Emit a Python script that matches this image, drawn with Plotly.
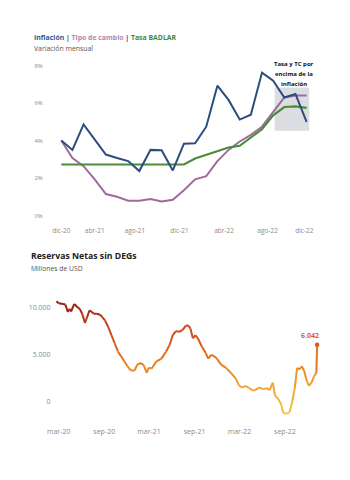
import plotly.graph_objects as go
from plotly.colors import sample_colorscale

# ---------------- Data: top chart (monthly % change) ----------------
top_tick_labels = ["dic-20", "abr-21", "ago-21", "dic-21", "abr-22", "ago-22", "dic-22"]
inflacion = [4.0, 3.5, 4.86, 4.05, 3.25, 3.07, 2.9, 2.37, 3.5, 3.48, 2.4, 3.83,
             3.85, 4.74, 6.93, 6.17, 5.12, 5.38, 7.63, 7.19, 6.3, 6.49, 5.0]
tipo_cambio = [4.0, 3.07, 2.63, 1.93, 1.14, 1.0, 0.79, 0.79, 0.88, 0.74, 0.84, 1.35,
               1.93, 2.1, 2.9, 3.5, 3.95, 4.3, 4.74, 5.5, 6.3, 6.4, 6.4]
badlar = [2.72, 2.72, 2.72, 2.72, 2.72, 2.72, 2.72, 2.72, 2.72, 2.72, 2.72, 2.72,
          3.04, 3.25, 3.42, 3.63, 3.72, 4.16, 4.6, 5.35, 5.79, 5.82, 5.74]
top_y_ticks = [0, 2, 4, 6, 8]

# ---------------- Data: bottom chart (net reserves, USD millions) ----------------
res_dates = ["2020-03-06", "2020-03-15", "2020-04-01", "2020-04-11", "2020-04-21", "2020-04-27",
             "2020-05-04", "2020-05-17", "2020-05-30", "2020-06-08", "2020-06-18", "2020-06-29",
             "2020-07-08", "2020-07-17", "2020-07-28", "2020-08-03", "2020-08-16", "2020-08-29",
             "2020-09-07", "2020-09-18", "2020-10-01", "2020-10-14", "2020-10-27", "2020-11-09",
             "2020-11-22", "2020-12-05", "2020-12-18", "2020-12-31", "2021-01-16", "2021-01-26",
             "2021-02-11", "2021-02-21", "2021-03-06", "2021-03-13", "2021-03-26", "2021-04-14",
             "2021-05-04", "2021-05-23", "2021-06-06", "2021-06-19", "2021-07-01", "2021-07-15",
             "2021-07-28", "2021-08-10", "2021-08-20", "2021-08-29", "2021-09-08", "2021-09-18",
             "2021-09-28", "2021-10-14", "2021-10-30", "2021-11-09", "2021-11-22", "2021-12-03",
             "2021-12-12", "2021-12-31", "2022-01-20", "2022-02-08", "2022-02-28", "2022-03-13",
             "2022-03-26", "2022-04-08", "2022-04-21", "2022-05-04", "2022-05-17", "2022-06-03",
             "2022-06-19", "2022-07-02", "2022-07-15", "2022-07-28", "2022-08-06", "2022-08-19",
             "2022-08-30", "2022-09-08", "2022-09-21", "2022-10-04", "2022-10-14", "2022-10-25",
             "2022-11-03", "2022-11-12", "2022-11-22", "2022-12-02", "2022-12-12", "2022-12-21",
             "2022-12-31", "2023-01-11", "2023-01-20", "2023-01-23"]
res_values = [10700, 10490, 10420, 10350, 9550, 9900,
              9610, 10420, 10070, 9890, 9370, 8390,
              9020, 9720, 9550, 9370, 9370, 9260,
              9020, 8660, 7960, 7090, 6210, 5330,
              4810, 4280, 3750, 3300, 3300, 3930,
              4100, 3860, 3050, 3580, 3510, 4280,
              4560, 5330, 6030, 7090, 7510, 7440,
              7610, 8070, 8140, 7790, 6740, 7090,
              6740, 5860, 5160, 4560, 4980, 4810,
              4630, 3930, 3580, 3050, 2450, 1700,
              1470, 1650, 1470, 1190, 1190, 1470,
              1300, 1400, 1190, 2000, 600, 240,
              -280, -1260, -1340, -1160, -100, 1470,
              3580, 3400, 3750, 3230, 2180, 1650,
              2000, 2700, 3050, 6042]
bottom_tick_labels = ["mar-20", "sep-20", "mar-21", "sep-21", "mar-22", "sep-22"]
bottom_tick_dates = ["2020-03-15", "2020-09-15", "2021-03-15", "2021-09-15", "2022-03-15", "2022-09-15"]
bottom_y_ticks = [0, 5000, 10000]

# ---------------- Styles ----------------
FONT = "Open Sans"
C_INF = "#2b4d7e"
C_TC = "#9e6b9c"
C_BAD = "#4a8c3a"
TICK_C = "#8a8a8a"
W, H = 350, 480


def px_x(p):
    return p / W


def px_y(p):
    return 1 - p / H


fig = go.Figure()

n = len(inflacion)
idx = list(range(n))
fig.add_trace(go.Scatter(x=idx, y=tipo_cambio, mode="lines", line=dict(color=C_TC, width=2),
                         xaxis="x", yaxis="y", showlegend=False, hoverinfo="skip"))
fig.add_trace(go.Scatter(x=idx, y=badlar, mode="lines", line=dict(color=C_BAD, width=2.2),
                         xaxis="x", yaxis="y", showlegend=False, hoverinfo="skip"))
fig.add_trace(go.Scatter(x=idx, y=inflacion, mode="lines", line=dict(color=C_INF, width=2),
                         xaxis="x", yaxis="y", showlegend=False, hoverinfo="skip"))

# Bottom chart: line coloured by value, segment by segment
cscale = [[0.0, "#f5c842"], [0.12, "#f3b53a"], [0.28, "#f0a030"], [0.44, "#e8801f"],
          [0.60, "#dc5e1c"], [0.76, "#cc4418"], [0.88, "#a82a12"], [1.0, "#901c0e"]]
vmin, vmax = -1500, 11000
for i in range(len(res_values) - 1):
    mid = (res_values[i] + res_values[i + 1]) / 2
    t = min(max((mid - vmin) / (vmax - vmin), 0), 1)
    col = sample_colorscale(cscale, [t])[0]
    fig.add_trace(go.Scatter(x=res_dates[i:i + 2], y=res_values[i:i + 2], mode="lines",
                             line=dict(color=col, width=2), xaxis="x2", yaxis="y2",
                             showlegend=False, hoverinfo="skip"))
last_t = (res_values[-1] - vmin) / (vmax - vmin)
last_col = sample_colorscale(cscale, [last_t])[0]
fig.add_trace(go.Scatter(x=[res_dates[-1]], y=[res_values[-1]], mode="markers",
                         marker=dict(color=last_col, size=4.5), xaxis="x2", yaxis="y2",
                         showlegend=False, hoverinfo="skip"))

annotations = [
    dict(x=px_x(25), y=px_y(34.5), xref="paper", yref="paper", xanchor="left", yanchor="middle",
         showarrow=False, font=dict(family=FONT, size=6.9, color="#2b4d7e"),
         text=("<b><span style='color:#2e5b8e'>Inflación</span> | "
               "<span style='color:#b585b3'>Tipo de cambio</span> | "
               "<span style='color:#3d8a3d'>Tasa BADLAR</span></b>")),
    dict(x=px_x(25), y=px_y(45.5), xref="paper", yref="paper", xanchor="left", yanchor="middle",
         showarrow=False, font=dict(family=FONT, size=6.9, color="#555555"),
         text="Variación mensual"),
    dict(x=px_x(22), y=px_y(256.5), xref="paper", yref="paper", xanchor="left", yanchor="middle",
         showarrow=False, font=dict(family=FONT, size=8.7, color="#222222"),
         text="<b>Reservas Netas sin DEGs</b>"),
    dict(x=px_x(22), y=px_y(269), xref="paper", yref="paper", xanchor="left", yanchor="middle",
         showarrow=False, font=dict(family=FONT, size=6.8, color="#555555"),
         text="Millones de USD"),
    dict(x=res_dates[-1], y=res_values[-1], xref="x2", yref="y2", xanchor="center", yanchor="middle",
         xshift=-7, yshift=9, showarrow=False,
         font=dict(family=FONT, size=7, color=last_col),
         text="<b>" + f"{res_values[-1]:,}".replace(",", ".") + "</b>"),
]
for k, line in enumerate(["Tasa y TC por", "encima de la", "inflación"]):
    annotations.append(dict(x=px_x(295), y=px_y(60.7 + 10.2 * k), xref="paper", yref="paper",
                            xanchor="center", yanchor="middle", showarrow=False,
                            font=dict(family=FONT, size=6, color="#111111"),
                            text="<b>" + line + "</b>"))

shapes = [dict(type="rect", xref="x", yref="y", x0=19.13, x1=22.23, y0=4.52, y1=6.83,
               fillcolor="#dcdde1", line=dict(width=0), layer="below")]

x_top_lo, x_top_hi = 50.4, 312.9
fig.update_layout(
    width=W, height=H, margin=dict(l=0, r=0, t=0, b=0),
    paper_bgcolor="white", plot_bgcolor="white",
    separators=",.",
    font=dict(family=FONT, size=7, color=TICK_C),
    showlegend=False,
    annotations=annotations, shapes=shapes,
    xaxis=dict(domain=[px_x(x_top_lo), px_x(x_top_hi)], range=[-0.4, n - 1 + 0.4],
               tickmode="array", tickvals=[0, 3.0, 6.6, 10.6, 14.6, 18.5, 21.8],
               ticktext=top_tick_labels, showgrid=False, zeroline=False, showline=False,
               ticks="", ticklabelstandoff=10, tickfont=dict(size=6.5, color=TICK_C),
               anchor="y", fixedrange=True),
    yaxis=dict(domain=[px_y(215), px_y(62.7)], range=[0, 8], tickmode="array",
               tickvals=top_y_ticks, ticktext=[f"{v}%" for v in top_y_ticks],
               showgrid=False, zeroline=False, showline=False, ticks="",
               ticklabelstandoff=13, tickfont=dict(size=6, color=TICK_C), anchor="x",
               fixedrange=True),
    xaxis2=dict(domain=[px_x(48), px_x(323)], type="date", range=["2020-02-27", "2023-02-07"],
                tickmode="array", tickvals=bottom_tick_dates, ticktext=bottom_tick_labels,
                showgrid=False, zeroline=False, showline=False, ticks="",
                ticklabelstandoff=6, tickfont=dict(size=7, color=TICK_C), anchor="y2",
                fixedrange=True),
    yaxis2=dict(domain=[px_y(423), px_y(299.5)], range=[-2000, 11000], tickmode="array",
                tickvals=bottom_y_ticks, tickformat=",d", showgrid=False, zeroline=False,
                showline=False, ticks="", ticklabelstandoff=3,
                tickfont=dict(size=7, color=TICK_C), anchor="x2", fixedrange=True),
)

fig.write_html("out.html")
